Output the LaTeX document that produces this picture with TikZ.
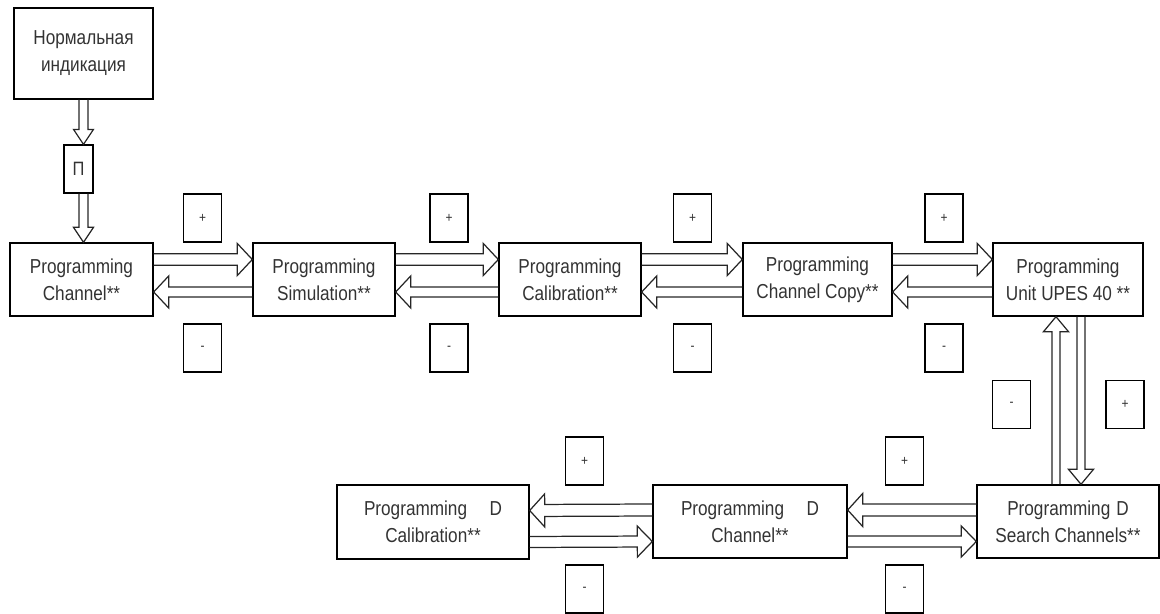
\documentclass[tikz,border=0pt]{standalone}
\usepackage{fontspec}
\setmainfont{Liberation Sans}[FakeStretch=0.85]
\usetikzlibrary{calc}

\tikzset{
  block/.style={draw, line width=0.8pt, text=black!80, align=center, minimum height=1.46cm, inner sep=1pt, font=\fontsize{11.5}{15.4}\selectfont},
  sign/.style={draw, line width=0.7pt, text=black!80, minimum width=0.76cm, minimum height=0.96cm, inner sep=0pt, font=\fontsize{8}{9}\selectfont},
  fat/.style={draw=black!85, line width=0.7pt, line join=miter}
}

% hollow block arrow: #1 half shaft, #2 half head, #3 from, #4 to
\newcommand{\fatarrow}[4]{%
  \coordinate (fa) at ($(#4)!0.3cm!(#3)$);
  \draw[fat] ($(#3)!#1!90:(#4)$) -- ($(fa)!#1!90:(#4)$) -- ($(fa)!#2!90:(#4)$) -- (#4)
    -- ($(fa)!#2!-90:(#4)$) -- ($(fa)!#1!-90:(#4)$) -- ($(#3)!#1!-90:(#4)$);
}

\begin{document}
\begin{tikzpicture}[x=0.02cm, y=-0.02cm]
    \useasboundingbox (0,0) rectangle (1160,614);

    \node[block, minimum width=2.78cm, minimum height=1.82cm] (norm) at (83.5,53.5) {Нормальная\\индикация};
    \node[sign, minimum width=0.58cm, font=\fontsize{11}{12}\selectfont] (pi) at (78.5,169) {П};

    % upper row
    \node[block, minimum width=2.86cm] (ch) at (81.5,279.5) {Programming\\Channel**};
    \node[block, minimum width=2.84cm] (sim) at (324,279.5) {Programming\\Simulation**};
    \node[block, minimum width=2.84cm] (cal) at (570,279.5) {Programming\\Calibration**};
    \node[block, minimum width=2.98cm] (copy) at (817.5,279.5) {Programming\\Channel Copy**};
    \node[block, minimum width=3.0cm] (upes) at (1068,279.5) {Programming\\Unit UPES 40 **};

    % lower row
    \node[block, minimum width=3.84cm, minimum height=1.48cm] (dcal) at (433,522) {Programming\hspace{0.45cm}D\\Calibration**};
    \node[block, minimum width=3.88cm] (dch) at (750,521.5) {Programming\hspace{0.45cm}D\\Channel**};
    \node[block, minimum width=3.64cm] (dsearch) at (1068,521.5) {Programming\hspace{0.12cm}D\\Search Channels**};

    % signs
    \foreach \x/\n in {202.5/1, 449/2, 692.5/3, 944/4}{
        \node[sign] (plus\n) at (\x,218) {+};
        \node[sign] (minus\n) at (\x,348) {-};
    }
    \node[sign] (minus5) at (1011.5,404.5) {-};
    \node[sign] (plus5) at (1125,404.5) {+};
    \node[sign] (plus6) at (584.5,461) {+};
    \node[sign] (minus6) at (584.5,589) {-};
    \node[sign] (plus7) at (904.5,461) {+};
    \node[sign] (minus7) at (904.5,589) {-};

    % arrows
    \coordinate (a1) at (norm.south |- pi.north);
    \coordinate (a2) at (norm.south |- pi.south);
    \coordinate (a3) at (norm.south |- ch.north);
    \fatarrow{0.09cm}{0.2cm}{norm.south}{a1}
    \fatarrow{0.09cm}{0.2cm}{a2}{a3}

    \foreach \a/\b in {ch/sim, sim/cal, cal/copy, copy/upes}{
        \coordinate (r1) at ([yshift=0.4cm]\a.east);
        \coordinate (r2) at ([yshift=0.4cm]\b.west);
        \fatarrow{0.115cm}{0.32cm}{r1}{r2}
        \coordinate (l1) at ([yshift=-0.25cm]\b.west);
        \coordinate (l2) at ([yshift=-0.25cm]\a.east);
        \fatarrow{0.1cm}{0.32cm}{l1}{l2}
    }

    \foreach \a/\b in {dcal/dch, dch/dsearch}{
        \coordinate (l1) at ([yshift=0.23cm]\b.west);
        \coordinate (l2) at ([yshift=0.23cm]\a.east);
        \fatarrow{0.12cm}{0.33cm}{l1}{l2}
        \coordinate (r1) at ([yshift=-0.4cm]\a.east);
        \coordinate (r2) at ([yshift=-0.4cm]\b.west);
        \fatarrow{0.11cm}{0.31cm}{r1}{r2}
    }

    \coordinate (u1) at ([xshift=-0.24cm]dsearch.north);
    \coordinate (u2) at (u1 |- upes.south);
    \fatarrow{0.08cm}{0.25cm}{u1}{u2}
    \coordinate (d1) at ([xshift=0.26cm]upes.south);
    \coordinate (d2) at (d1 |- dsearch.north);
    \fatarrow{0.08cm}{0.25cm}{d1}{d2}
\end{tikzpicture}
\end{document}
